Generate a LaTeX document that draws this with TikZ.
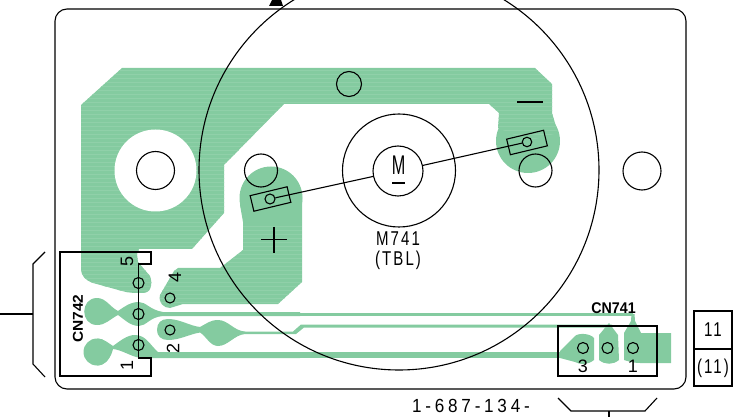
\documentclass[tikz,border=0pt]{standalone}
\usepackage{fontspec}
\setmainfont{Liberation Sans}
\usetikzlibrary{calc}
\definecolor{padgreen}{HTML}{84CBA0}
\definecolor{stripegreen}{HTML}{90D0A9}
\tikzset{
  outline/.style={draw=black,line width=1.1pt},
  hole/.style={circle,draw=black,line width=1.1pt,inner sep=0pt,minimum size=#1},
  termbox/.style={draw=black,line width=1.1pt,inner sep=0pt,minimum width=38pt,minimum height=16pt,rotate=13.5},
  refdes/.style={inner sep=0pt,font=\fontsize{20}{20}\selectfont\addfontfeature{LetterSpace=14},xscale=.75},
  partlabel/.style={inner sep=0pt,font=\fontsize{19}{19}\selectfont\addfontfeature{LetterSpace=22},xscale=.9},
  pinlabel/.style={inner sep=0pt,font=\fontsize{18}{18}\selectfont},
  conlabel/.style={inner sep=0pt,font=\fontsize{15.5}{15.5}\selectfont\bfseries,xscale=.92},
}
\newcommand{\mainpad}{(122,68)--(535,68)--(552,84)--(552,113)--(558,133)--(528,141)--(498,128)--(499,113)--(489,104)--(284,104)--(224,165)--(224,213)--(192,249)--(139,249)--(137,254)--(138,262)--(150,276) .. controls (153,284) and (151,293) .. (143,293) .. controls (135,293) and (128,293) .. (122,291)--(93,283) .. controls (85,280) and (81,276) .. (81,268)--(81,105)--cycle}
\newcommand{\plusblock}{(240,205)--(243,222)--(243,250)--(220,268)--(178,268)--(174,271)--(160,295) .. controls (158,303) and (164,308) .. (170,308)--(183,304)--(278,304)--(302,282)--(302,196)--cycle}
\begin{document}
\begin{tikzpicture}[x=1pt,y=-1pt]
\useasboundingbox (0,0) rectangle (748,417);

% copper
\fill[padgreen] \mainpad;
\fill[padgreen] (528,141) circle (32);
\fill[padgreen] \plusblock;
\fill[padgreen] (271,198) circle (31.5);
\begin{scope}
\clip \mainpad;
\foreach \y in {70,74,...,290} {
  \draw[stripegreen,line width=.5pt] (81,\y)--(560,\y);
}
\end{scope}
\begin{scope}
\clip \plusblock;
\foreach \y in {226,230,...,304} {
  \draw[stripegreen,line width=.5pt] (160,\y)--(303,\y);
}
\end{scope}
\fill[white] (155.5,170.5) circle (41);

% pads of CN742
\fill[padgreen] (97,298) .. controls (80,298) and (80,325) .. (97,325) -- cycle;
\fill[padgreen] (97,298) .. controls (106,298) and (110,307) .. (118,311) .. controls (124,307) and (130,302) .. (139,302) .. controls (146,302) and (150,310) .. (163,312) -- (300,312) -- (300,316) -- (163,316) .. controls (150,317) and (146,326) .. (139,326) .. controls (130,326) and (124,319) .. (118,315) .. controls (110,319) and (106,325) .. (97,325) -- cycle;
\fill[padgreen] (97,352) circle (13.5);
\fill[padgreen] (97,338.5) .. controls (104,338.5) and (108,343) .. (113,346) .. controls (120,341) and (127,335) .. (135,335) .. controls (146,335) and (150,345) .. (158,352) -- (300,352) -- (300,358) -- (140,358) .. controls (130,356) and (122,350) .. (113,349) .. controls (111,358) and (105,365.5) .. (97,365.5) -- cycle;
\fill[padgreen] (157,330) .. controls (157,323) and (161,319) .. (168,319) .. controls (180,319) and (190,326) .. (200,327) .. controls (206,324) and (210,320) .. (218,320) .. controls (228,320) and (234,331) .. (245,331.5) -- (293,331.5) -- (301,324.5) -- (612,324.5) -- (612,327.5) -- (304,327.5) -- (296,334) -- (245,334) .. controls (234,335) and (228,346) .. (218,346) .. controls (210,346) and (206,336) .. (200,332.5) .. controls (190,334) and (180,340) .. (168,340) .. controls (161,340) and (157,336) .. (157,330) -- cycle;

% lines to CN741
\fill[padgreen] (300,313) rectangle (633,316);
\fill[padgreen] (300,352) rectangle (560,358);
\fill[padgreen] (560,351)--(575,336) .. controls (578,333) and (590,333) .. (594,338)--(594,360) .. controls (588,365) and (580,365) .. (575,362)--(560,358)--cycle;
\fill[padgreen] (609,323)--(618,335)--(619,360) .. controls (613,365) and (605,365) .. (599,360)--(599,335)--cycle;
\fill[padgreen] (631.5,314)--(634.5,314)--(635,321)--(641,333)--(671,333)--(671,363)--(640,363) .. controls (635,363) and (630,362) .. (624,360)--(624,333)--(631,321)--cycle;

% board
\draw[outline,rounded corners=12pt] (55,9) rectangle (686,389);
\fill[black] (269,6)--(272,0)--(281,0)--(283,6)--cycle;

% motor
\draw[outline] (399,170) circle (200);
\node[hole=113pt] (motorbody) at (399,170.5) {};
\node[hole=50pt] (motor) at (398,171) {};
\node[inner sep=0pt,font=\fontsize{27}{27}\selectfont,xscale=.6] (motorM) at (398.5,165) {M};
\draw[outline] (392,183)--(405,183);
\node[refdes] (m741) at (398,239) {M741};
\node[refdes] (tbl) at (398,260) {(TBL)};

% mounting holes
\node[hole=25pt] (holetop) at (349,84) {};
\node[hole=38pt] (holeleft) at (155.5,170.5) {};
\node[hole=33pt] (holemidL) at (261,170.5) {};
\node[hole=33pt] (holemidR) at (535.5,170.5) {};
\node[hole=38pt] (holeright) at (642,171) {};

% motor terminals
\node[termbox] (termL) at (270.5,199) {};
\node[termbox] (termR) at (527,142.5) {};
\node[hole=10pt] (holeL) at (270,199) {};
\node[hole=9.5pt] (holeR) at (527,142) {};
\draw[outline] (holeL)--(motor);
\draw[outline] (motor)--(holeR);
\draw[outline] (274,227)--(274,253);
\draw[outline] (261,239.5)--(287,239.5);
\draw[outline] (517,102)--(543,102);

% CN742
\draw[outline] (60,252)--(151,252)--(151,264)--(138.5,264)--(138.5,358)--(151,358)--(151,376)--(60,376)--cycle;
\node[hole=11pt] (pinfive) at (138.5,283) {};
\node[hole=11pt] (pinthree) at (138.5,314) {};
\node[hole=11pt] (pinone) at (138.5,345) {};
\node[hole=10pt] (pinfour) at (170,298) {};
\node[hole=10pt] (pintwo) at (170,330) {};
\node[conlabel,rotate=90] (cnleft) at (78,318.5) {CN742};
\node[pinlabel,rotate=90] (labfive) at (127,261) {5};
\node[pinlabel,rotate=90] (labone) at (127,365) {1};
\node[pinlabel,rotate=90] (labfour) at (175,277) {4};
\node[pinlabel,rotate=90] (labtwo) at (173,348) {2};
\coordinate (bracketL) at (33,314);
\coordinate (feedL) at (0,314);
\draw[outline] (45,252)--(33,264)--(33,364)--(45,377);
\draw[outline] (feedL)--(bracketL);

% CN741
\draw[outline] (558,326) rectangle (657,376);
\node[hole=11pt] (socketthree) at (583,348) {};
\node[hole=11pt] (sockettwo) at (607.5,348) {};
\node[hole=11pt] (socketone) at (633,348) {};
\node[pinlabel] (labthree) at (583,366) {3};
\node[pinlabel] (laboneR) at (633,366) {1};
\node[conlabel] (cnright) at (613.5,308.5) {CN741};

% sheet reference
\draw[outline] (694,311) rectangle (732,386);
\draw[outline] (694,349)--(732,349);
\node[refdes] (sheetA) at (713,330) {11};
\node[refdes] (sheetB) at (713,368) {(11)};
\node[partlabel] (partno) at (471,405.5) {1-687-134-};
\coordinate (bracketB) at (609,411);
\coordinate (feedB) at (609,417);
\draw[outline] (558,398)--(571,411)--(645,411)--(657,398);
\draw[outline] (bracketB)--(feedB);

\end{tikzpicture}
\end{document}
